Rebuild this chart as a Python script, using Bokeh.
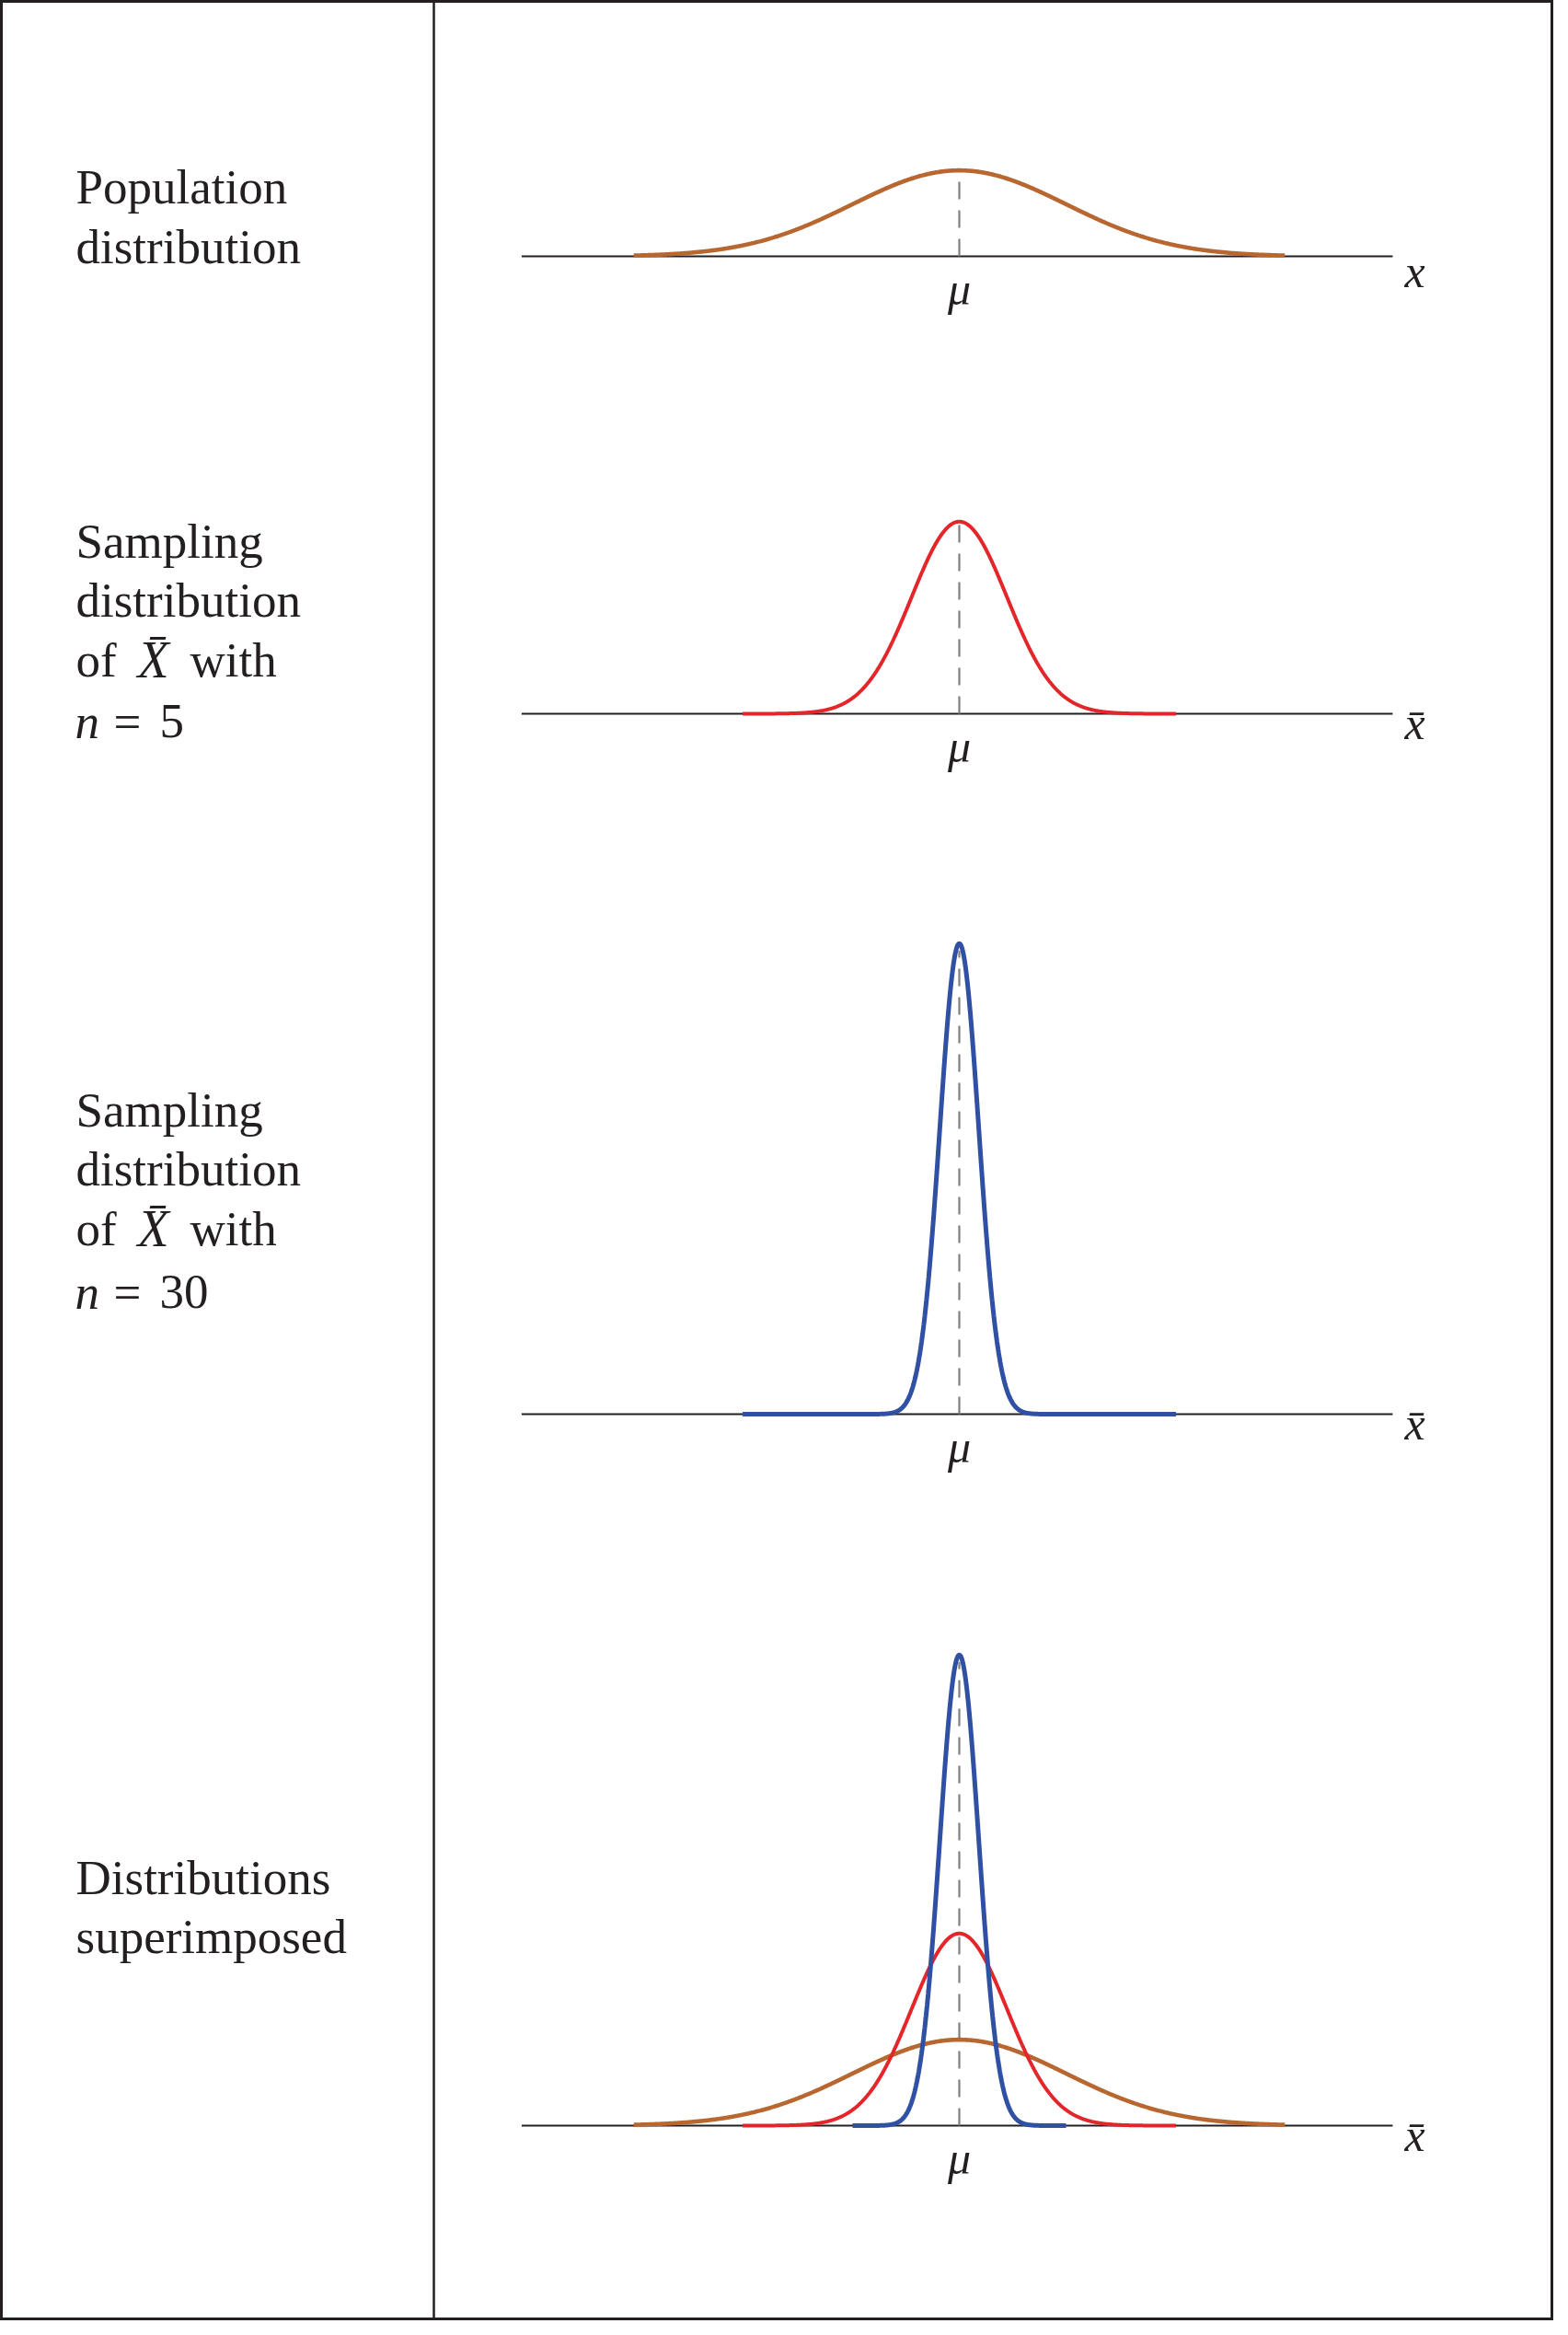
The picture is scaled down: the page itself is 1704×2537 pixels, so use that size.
import numpy as np
from bokeh.plotting import figure
from bokeh.models import Range1d, Span
from bokeh.core.properties import value
from bokeh.embed import file_html
from bokeh.resources import INLINE

# ---------------- data ----------------
mu = 0.0
sigma = 1.0
sample_sizes = [1, 5, 30]                       # population, n = 5, n = 30
panel_curves = [[0], [1], [2], [0, 1, 2]]       # which distributions each panel shows
curve_half_spans = [[3.05], [2.03], [2.03], [3.05, 2.03, 1.0]]   # drawn extent, in sigma units
axis_extent = [-4.10, 4.06]                     # extent of each horizontal axis, in sigma units
axis_names = ["x", "x\u0304", "x\u0304", "x\u0304"]
tick_label = "\u03bc"
panel_text = [
    ["Population", "distribution"],
    ["Sampling", "distribution", ["of", "X\u0304", "with"], ["n", "=", "5"]],
    ["Sampling", "distribution", ["of", "X\u0304", "with"], ["n", "=", "30"]],
    ["Distributions", "superimposed"],
]

# ---------------- styles / layout ----------------
curve_colors = ["#B7672F", "#E4262B", "#3050A3"]
curve_widths = [4.6, 4.0, 5.0]
INK = "#231f20"
SERIF = value("Liberation Serif")

W, H = 1688, 2521
MARGIN = 8
CENTER_PX = 1050 - MARGIN
SIGMA_PX = 116.0
K = 234.0  # pixels per density unit

def sx(rx):
    return (rx - MARGIN - CENTER_PX) / SIGMA_PX

def sy(ry):
    return (H - (ry - MARGIN)) / K

p = figure(width=W, height=H, output_backend="svg", toolbar_location=None,
           x_range=Range1d(-CENTER_PX / SIGMA_PX, (W - CENTER_PX) / SIGMA_PX),
           y_range=Range1d(0, H / K),
           x_axis_location=None, y_axis_location=None, min_border=0)
p.grid.visible = False
p.background_fill_color = "white"
p.border_fill_color = "white"
p.outline_line_color = INK
p.outline_line_width = 5

# divider between label column and plot column
p.add_layout(Span(location=sx(479), dimension="height", line_color=INK, line_width=2.5))

baselines_ref = [286, 783, 1544, 2317]
label_dy = [16, 10, 10, 10]
text_baselines = [
    [210, 275],
    [595, 659, 724, 791],
    [1213, 1277, 1342, 1411],
    [2047, 2111],
]

for i, base_r in enumerate(baselines_ref):
    y0 = sy(base_r)
    # horizontal axis
    p.line(axis_extent, [y0, y0], line_color=INK, line_width=2.2)
    # dashed line at mu up to tallest peak
    tallest = max(np.sqrt(sample_sizes[c]) / (sigma * np.sqrt(2 * np.pi)) for c in panel_curves[i])
    p.line([mu, mu], [y0, y0 + tallest * 0.985], line_color="#7f7f7f", line_width=2.2, line_dash="19 12")
    # curves
    for c, half in zip(panel_curves[i], curve_half_spans[i]):
        n = sample_sizes[c]
        s = sigma / np.sqrt(n)
        xs = np.linspace(mu - half, mu + half, 800)
        ys = np.exp(-0.5 * ((xs - mu) / s) ** 2) / (s * np.sqrt(2 * np.pi))
        p.line(xs, y0 + ys, line_color=curve_colors[c], line_width=curve_widths[c], line_cap="butt")
    # mu tick label
    p.text(x=[mu], y=[sy(base_r + 35)], text=[tick_label], text_font=SERIF, text_font_style="italic",
           text_font_size="50px", text_align="center", text_baseline="alphabetic", text_color=INK)
    # axis name
    p.text(x=[sx(1534)], y=[sy(base_r + label_dy[i])], text=[axis_names[i]], text_font=SERIF,
           text_font_style="italic", text_font_size="50px", text_align="left",
           text_baseline="alphabetic", text_color=INK)
    # left column text
    for line, ty in zip(panel_text[i], text_baselines[i]):
        if isinstance(line, str):
            parts = [(line, 90, "normal", "53px")]
        elif line[0] == "of":
            parts = [(line[0], 90, "normal", "53px"), (line[1], 157, "italic", "56px"),
                     (line[2], 214, "normal", "53px")]
        else:
            parts = [(line[0], 89, "italic", "53px"), (line[1], 131, "normal", "53px"),
                     (line[2], 181, "normal", "53px")]
        for txt, rx, style, size in parts:
            p.text(x=[sx(rx)], y=[sy(ty)], text=[txt], text_font=SERIF, text_font_style=style,
                   text_font_size=size, text_align="left", text_baseline="alphabetic",
                   text_color=INK)

open("out.html", "w").write(file_html(p, INLINE))
